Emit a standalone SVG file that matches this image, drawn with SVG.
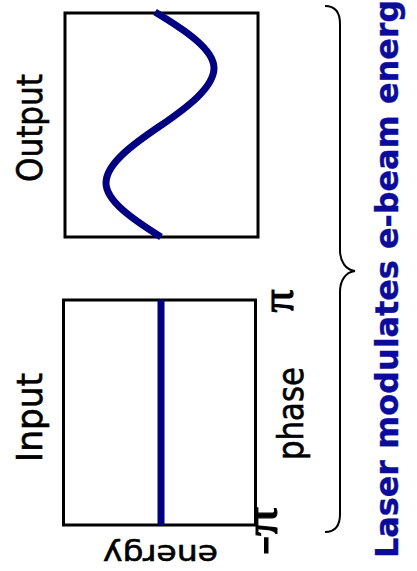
<svg xmlns="http://www.w3.org/2000/svg" width="417" height="571" viewBox="0 0 417 571">
  <style>
    .frame { fill: #ffffff; stroke: #000000; stroke-width: 3; }
    .trace { fill: none; stroke: #000080; stroke-width: 7; }
    .lbl { font-family: "DejaVu Sans", "Liberation Sans", sans-serif; fill: #000000; stroke: #000000; stroke-width: 0.6; }
    .sym { font-family: "Liberation Serif", "DejaVu Serif", serif; fill: #000000; stroke: #000000; stroke-width: 1; }
    .title { font-family: "DejaVu Sans", "Liberation Sans", sans-serif; font-weight: bold; fill: #0b0b9c; stroke: #0b0b9c; stroke-width: 0.4; }
    .brace { fill: none; stroke: #000000; stroke-width: 2; }
  </style>
  <rect width="417" height="571" fill="#ffffff"/>

  <!-- phase-space box before modulation: flat energy line -->
  <g id="input-plot">
    <rect class="frame" x="63.5" y="300" width="192" height="225"/>
    <line class="trace" x1="161" y1="300" x2="161" y2="525"/>
    <text class="lbl" font-size="36" transform="translate(42,462) rotate(-90)" textLength="89" lengthAdjust="spacingAndGlyphs">Input</text>
    <text class="lbl" font-size="36" transform="translate(303,460) rotate(-90)" textLength="93" lengthAdjust="spacingAndGlyphs">phase</text>
    <text class="lbl" font-size="28" transform="translate(218,545) rotate(180)" textLength="115" lengthAdjust="spacingAndGlyphs">energy</text>
    <text class="sym" font-size="46" text-anchor="middle" transform="translate(293,301) rotate(-90)">π</text>
    <text class="sym" font-size="46" transform="translate(277,555) rotate(-90)" textLength="48" lengthAdjust="spacingAndGlyphs">-π</text>
  </g>

  <!-- phase-space box after modulation: sinusoidal energy -->
  <g id="output-plot">
    <rect class="frame" x="65" y="13" width="193" height="224"/>
    <path class="trace" d="M155,12 C185.2,30.2 214,49.3 214,68 C214,87.3 187.6,107.1 160,126 C132.4,144.6 106,164 106,183 C106,201 132.9,219.4 161,237"/>
    <text class="lbl" font-size="36" transform="translate(42,182) rotate(-90)" textLength="108" lengthAdjust="spacingAndGlyphs">Output</text>
  </g>

  <g id="connectors">
    <path class="brace" d="M325,6 C335,6 340,12 340,24 L340,250 C340,262 346,270 355,271 C346,272 340,280 340,292 L340,514 C340,526 335,532 325,532"/>
  </g>

  <g id="caption">
    <text class="title" font-size="32" transform="translate(398,558) rotate(-90)" textLength="579" lengthAdjust="spacingAndGlyphs">Laser modulates e-beam energy</text>
  </g>
</svg>
